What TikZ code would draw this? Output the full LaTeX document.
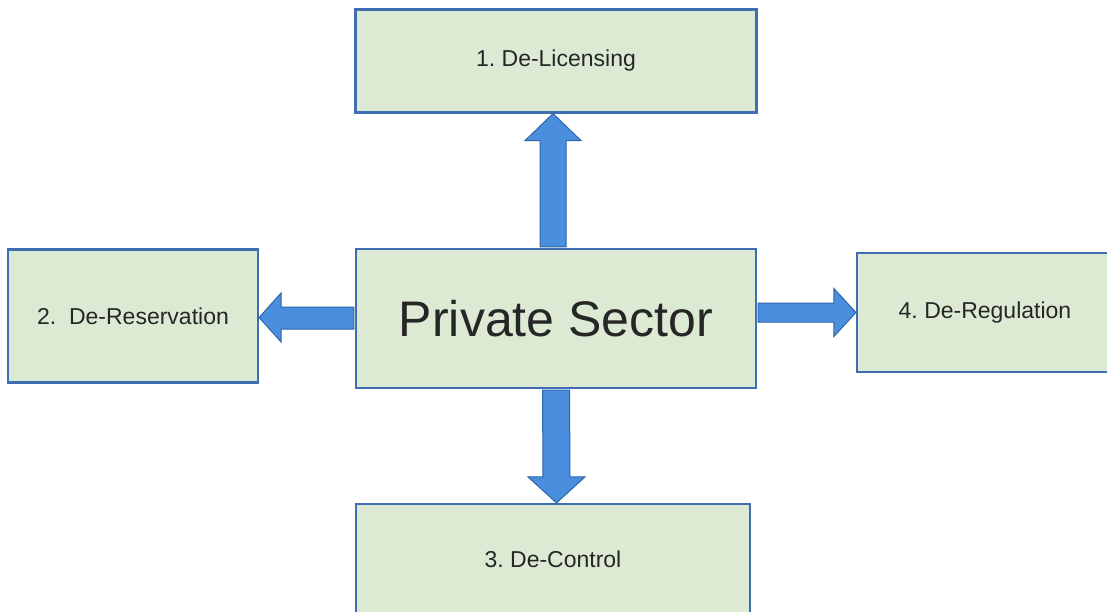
\documentclass[tikz,border=0pt]{standalone}
\usepackage{fontspec}
\setmainfont{Liberation Sans}
\usetikzlibrary{calc}
\definecolor{boxfill}{HTML}{DCEAD4}
\definecolor{boxline}{HTML}{3F6DB3}
\definecolor{arrfill}{HTML}{4A8FDD}
\definecolor{arrline}{HTML}{2E64AC}
\tikzset{
  greenbox/.style={draw=boxline, fill=boxfill, line width=2.2bp, inner sep=0pt,
    font=\fontsize{23bp}{27bp}\selectfont\frenchspacing, text=black!85},
  fatarrow/.style={fill=arrfill, draw=arrline, line width=1bp, line join=miter}
}
\begin{document}
\begin{tikzpicture}[x=1bp,y=-1bp]
\useasboundingbox (0,0) rectangle (1107,612);
\node[greenbox, minimum width=401bp, minimum height=103bp] (t) at (556,61) {1. De-Licensing};
\node[greenbox, minimum width=400bp, minimum height=139bp, font=\fontsize{50bp}{56bp}\selectfont] (c) at (556,318.5) {Private Sector};
\node[greenbox, minimum width=250bp, minimum height=133bp] (l) at (133,316) {2.\ \ De-Reservation};
\node[greenbox, minimum width=256bp, minimum height=119bp] (r) at (985,312.5) {4. De-Regulation};
\node[greenbox, minimum width=394bp, minimum height=110bp] (b) at (553,559) {3. De-Control};
% up arrow
\draw[fatarrow] ($(c.north)+(-16,-1)$) -- ($(t.south)+(-16,27)$) -- ($(t.south)+(-31,27)$)
  -- ($(t.south)+(-3,0)$) -- ($(t.south)+(25,27)$) -- ($(t.south)+(10,27)$) -- ($(c.north)+(10,-1)$) -- cycle;
% down arrow
\draw[fatarrow] ($(c.south)+(-13.5,1)$) -- ($(b.north)+(-10,-26)$) -- ($(b.north)+(-25,-26)$)
  -- ($(b.north)+(3.5,0)$) -- ($(b.north)+(32,-26)$) -- ($(b.north)+(17,-26)$) -- ($(c.south)+(13.5,1)$) -- cycle;
% left arrow
\draw[fatarrow] ($(c.west|-l.east)+(-1,-9)$) -- ($(l.east)+(22,-9)$) -- ($(l.east)+(22,-23)$)
  -- ($(l.east)+(0,1.5)$) -- ($(l.east)+(22,26)$) -- ($(l.east)+(22,13)$) -- ($(c.west|-l.east)+(-1,13)$) -- cycle;
% right arrow
\draw[fatarrow] ($(c.east|-r.west)+(1,-9.5)$) -- ($(r.west)+(-22,-9.5)$) -- ($(r.west)+(-22,-24)$)
  -- (r.west) -- ($(r.west)+(-22,24)$) -- ($(r.west)+(-22,9.5)$) -- ($(c.east|-r.west)+(1,9.5)$) -- cycle;
\end{tikzpicture}
\end{document}
